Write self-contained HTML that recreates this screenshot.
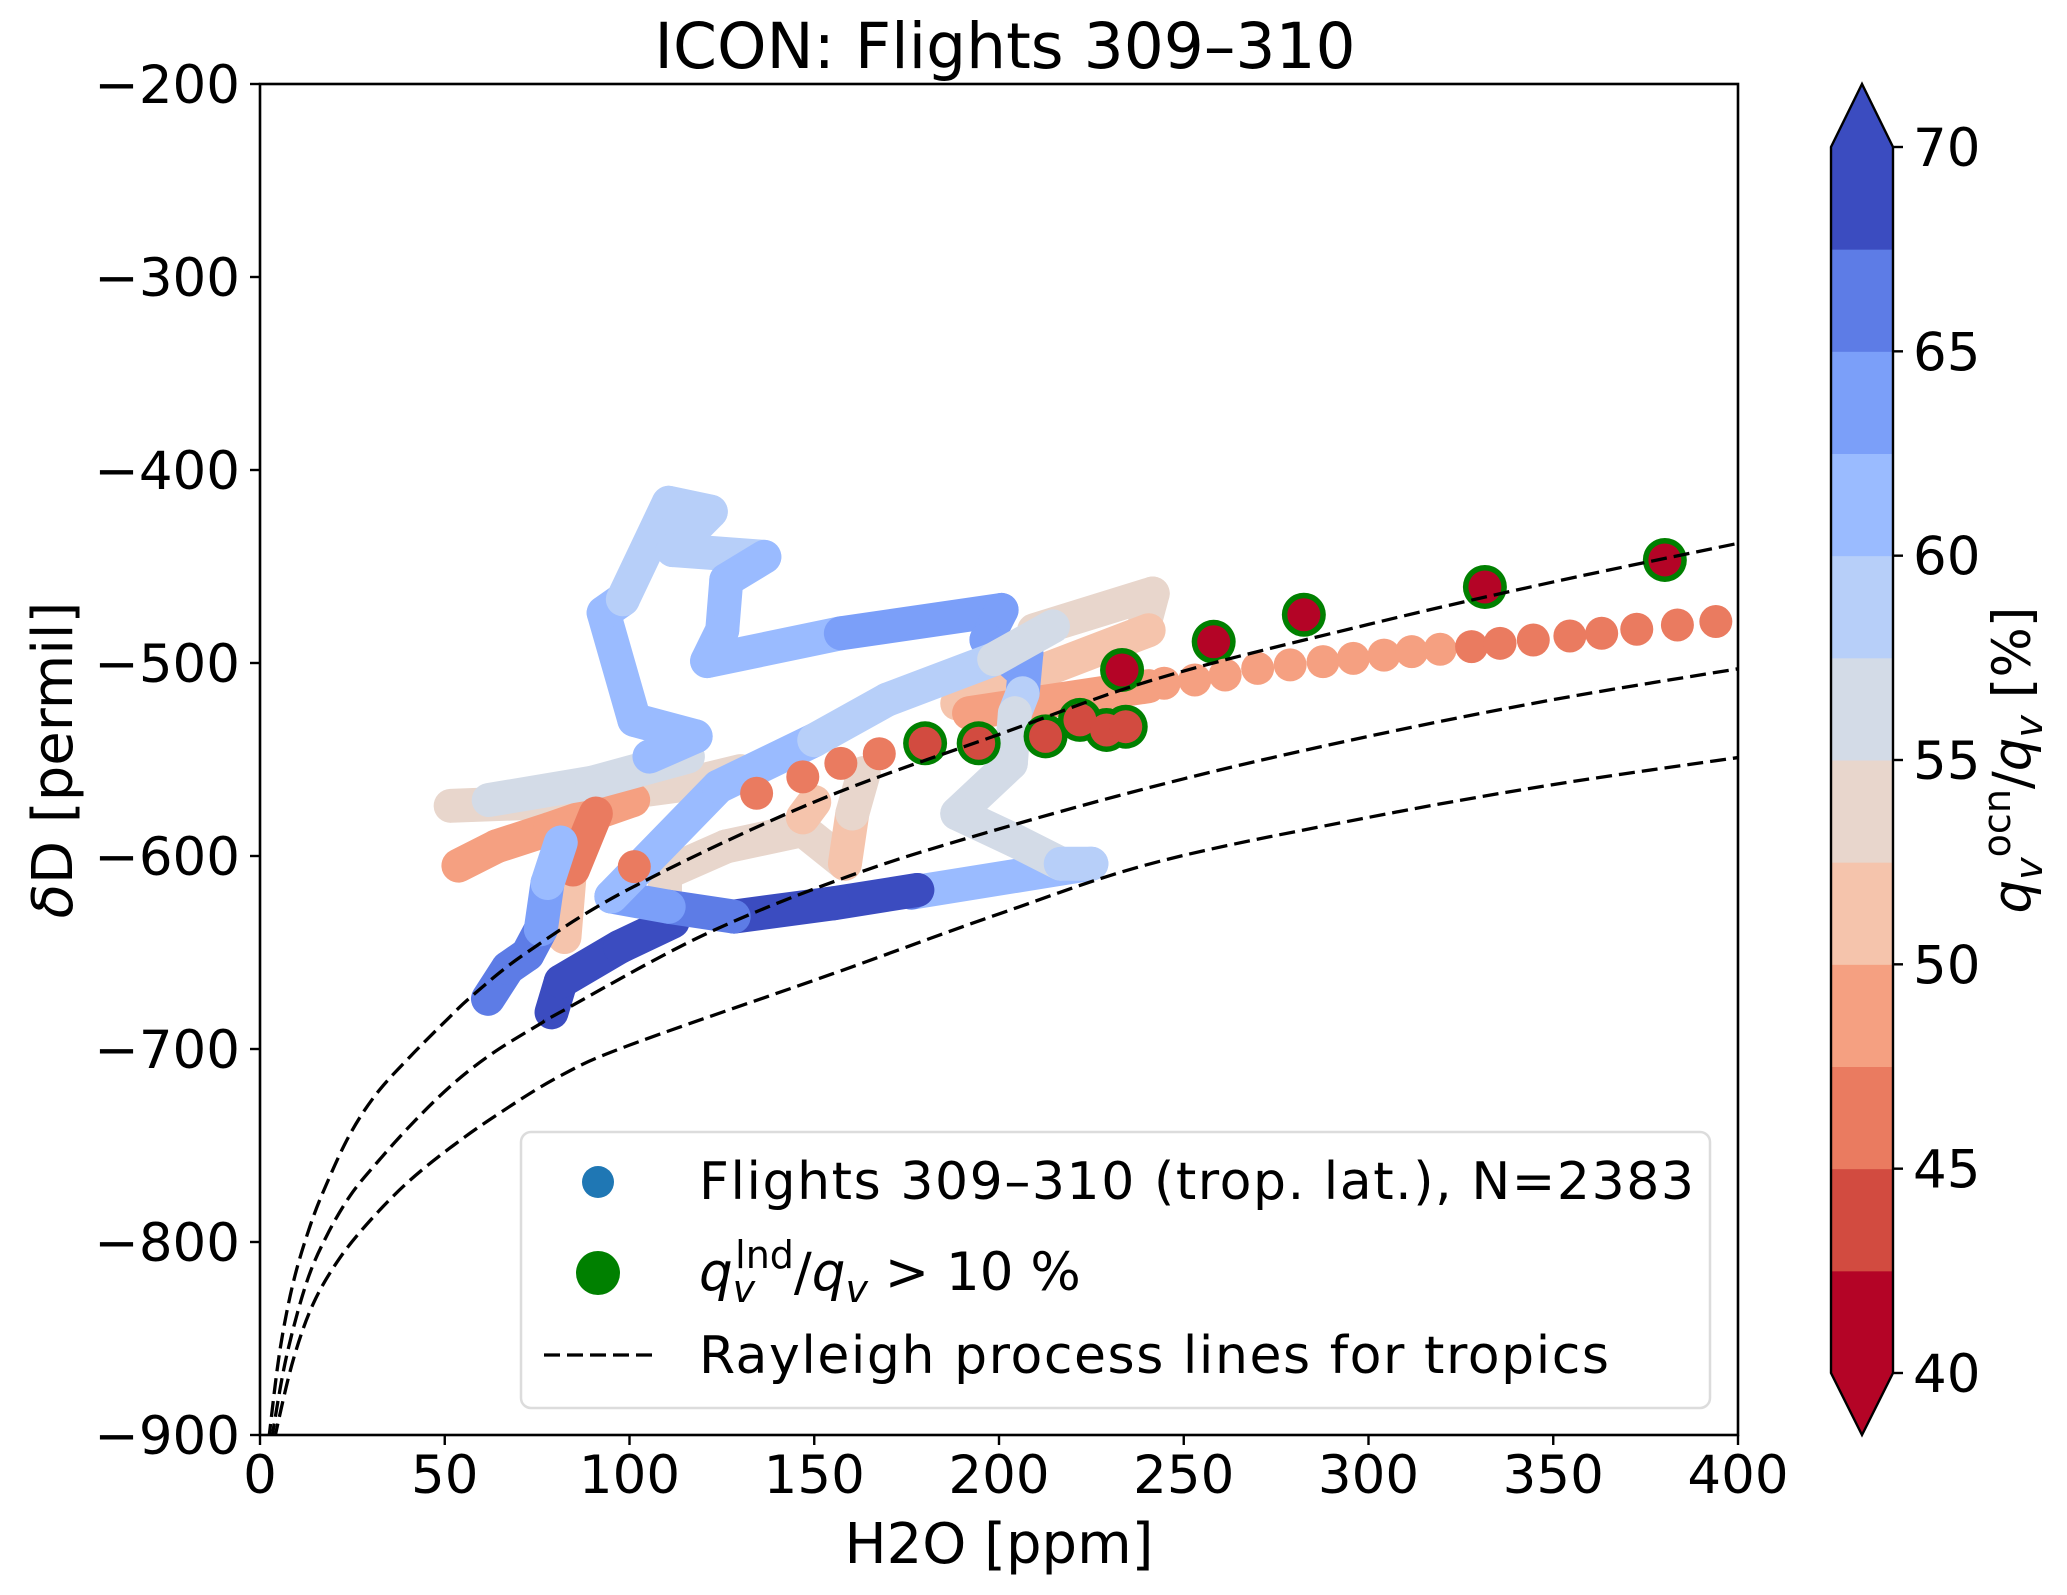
<!DOCTYPE html>
<html><head><meta charset="utf-8"><style>
html,body{margin:0;padding:0;background:#fff}
svg{display:block;font-family:"DejaVu Sans","Liberation Sans",sans-serif}
</style></head><body>
<svg id="chart" width="2067" height="1595" viewBox="0 0 2067 1595" xmlns="http://www.w3.org/2000/svg">
<g id="marks"></g>
<g id="axes"></g>
</svg>
<script>
// ---- data ----
const xTicks = [0,50,100,150,200,250,300,350,400];
const yTicks = [-200,-300,-400,-500,-600,-700,-800,-900];
const cbTicks = [40,45,50,55,60,65,70];
const cbLevels = [40,42.5,45,47.5,50,52.5,55,57.5,60,62.5,65,67.5,70];
const cbColors = ["#b40426","#d24b40","#ea7b60","#f5a081","#f5c4ac","#e8d6cc","#d3dbe7","#b7cff9","#9abbff","#7b9ff9","#5d7ce6","#3b4cc0"];
// Rayleigh lines: [H2O, dD]
const rayleigh1 = [[2.5,-902],[2.7,-897],[5.4,-856],[9,-821],[13.5,-792],[18,-770],[24.4,-744],[31.6,-723],[40.6,-704],[50.5,-685],[57.7,-672],[72.2,-650],[100,-617],[150,-572],[200,-537],[243,-508],[300,-480],[350,-458],[400,-438]];
const rayleigh2 = [[3.4,-902],[3.6,-897],[7.2,-859],[12.6,-821],[18,-797],[24.4,-776],[31.6,-759],[41.5,-738],[52.3,-718],[63.1,-702],[75.8,-687],[81.2,-681],[120,-641],[160,-610],[200,-586],[250,-560],[300,-538],[350,-519],[400,-503]];
const rayleigh3 = [[4.3,-902],[4.5,-897],[9,-861],[14.4,-832],[21.7,-808],[30.7,-787],[40.6,-768],[52.3,-750],[65,-733],[81.2,-714],[100,-698],[155,-661],[200,-630],[243,-603],[300,-580],[350,-563],[400,-549]];
// flight track segments: [H2O, dD, ocean fraction %]
const trackBeige = [[51.6,-574,54],[80,-572,54],[115,-563,54],[130,-556,54]];
const trackSalmon = [[53.7,-605,49],[64,-595,49],[78.5,-586,49],[101,-571,49]];
const trackBeigeLow = [[109.6,-635,53],[109.6,-609,53],[126.2,-595,53],[146.9,-586.5,53],[158.3,-604,52],[160.3,-578,53],[163.4,-557,54]];
const trackPeachBlob = [[146.9,-580,51],[150,-572,51]];
const trackGreyBand = [[61.9,-571,56],[90,-562,56],[115.8,-548.5,56]];
const trackOrangeV = [[90.9,-578,46],[84.7,-607,46]];
const trackPeachV = [[83.7,-612,51],[82.4,-642,51]];
const trackLoop = [[105.4,-548.5,61],[117.9,-538,61],[101.3,-529.5,61],[93,-474,61],[98.2,-467,59],[110.6,-417,58],[122,-421.6,58],[111.7,-441.5,58],[136.5,-445,61],[126.2,-457,61],[125.1,-483,61],[121,-499,61],[157.2,-484.6,64],[200.7,-472.5,64],[196.6,-488,64],[204.9,-502,64],[207.4,-495,64],[206.4,-515.7,59],[204.3,-526,57],[203.2,-552,56],[188.7,-578,56],[204.3,-592,56],[216.7,-604,58],[225,-604,62]];
const trackBottom = [[225,-604,62],[176.3,-619,66],[177.9,-617.6,68],[155.2,-624.5,69],[128.2,-631.4,66],[110.6,-626.3,64],[95.1,-621,63]];
const trackDiag = [[95.1,-621,61],[124.1,-564,61],[150,-540,58],[169.7,-519,58],[198.7,-498,56],[214.6,-481,56]];
const trackUpperBeige = [[209.5,-483,54],[241.6,-464,54],[239.5,-479,54]];
const trackUpperPeach = [[188.7,-521,51],[240.5,-483,51]];
const trackUpperSalmon = [[191.9,-526,48],[240.5,-512,48]];
const trackLeftBlue = [[61.7,-674,66],[67.1,-658,66],[72.4,-651,66],[76,-638,63],[77.8,-614,60],[81.4,-593,58]];
const trackDark = [[78.9,-681,70],[81.4,-665,70],[97.4,-647,70],[111.7,-634,70]];
// individual points (ocean fraction %)
const dotsX = [101.3,134.4,146.9,157.2,167.6,244.7,253,261.2,270,278.8,287.7,295.9,304.2,311.7,319.4,327.9,335.6,344.6,354.5,363.1,372.6,383.6,394];
const dotsY = [-605.5,-567.5,-559,-552,-547,-510.5,-508.8,-506.2,-502.8,-501,-499.3,-497.6,-495.9,-494.1,-492.9,-491.5,-489.8,-488.1,-486,-484.6,-482.5,-480.3,-478.5];
const dotsC = [46,46,46,46,46,48,48,48,48,48,48,48,48,48,48,46,46,46,46,46,46,46,46];
const greenX = [180,194.5,212.6,221.9,229.1,234.3,233.3,258.1,282.5,331.5,380.2];
const greenY = [-541.6,-541.6,-538,-529.5,-534.7,-533,-503.6,-489,-475,-460.6,-446.6];
const greenC = [44,44,44,44,44,44,41,41,41,41,41];

// ---- axes geometry ----
const L=260,R=1738,T=84,B=1435;
const xs = v => L + (v-0)/(400-0)*(R-L);
const ys = v => T + (-200 - v)/700*(B-T);
const NS="http://www.w3.org/2000/svg";
function el(tag, attrs, parent){const e=document.createElementNS(NS,tag);for(const k in attrs)e.setAttribute(k,attrs[k]);parent.appendChild(e);return e;}
function colorOf(v){let i=Math.floor((v-40)/2.5);if(i<0)i=0;if(i>11)i=11;return cbColors[i];}
const marks=document.getElementById('marks'), axes=document.getElementById('axes');
const clip=el('clipPath',{id:'pc'},marks);el('rect',{x:L,y:T,width:R-L,height:B-T},clip);
const g=el('g',{'clip-path':'url(#pc)'},marks);

function drawTrack(arr,name){
  for(let i=0;i<arr.length-1;i++){
    const a=arr[i],b=arr[i+1];
    const ln=el('line',{x1:xs(a[0]),y1:ys(a[1]),x2:xs(b[0]),y2:ys(b[1]),stroke:colorOf(a[2]),'stroke-width':34,'stroke-linecap':'round'},g);
    
    
  }
}
drawTrack(trackBeige,'track-beige');
drawTrack(trackSalmon,'track-salmon');
drawTrack(trackBeigeLow,'track-beige-low');
drawTrack(trackPeachBlob,'track-peach');
drawTrack(trackGreyBand,'track-grey');
drawTrack(trackUpperBeige,'track-upper-beige');
drawTrack(trackUpperPeach,'track-upper-peach');
drawTrack(trackUpperSalmon,'track-upper-salmon');
drawTrack(trackPeachV,'track-peach-vertical');
drawTrack(trackOrangeV,'track-orange-vertical');
drawTrack(trackLeftBlue,'track-left-blue');
drawTrack(trackDark,'track-dark-blue');
drawTrack(trackBottom,'track-bottom-blue');
drawTrack(trackLoop,'track-loop');
drawTrack(trackDiag,'track-diagonal');

for(let i=0;i<greenX.length;i++){
  const c=el('circle',{cx:xs(greenX[i]),cy:ys(greenY[i]),r:22,fill:'#008000'},g);
  
  
}
for(let i=0;i<dotsX.length;i++){
  const c=el('circle',{cx:xs(dotsX[i]),cy:ys(dotsY[i]),r:16.5,fill:colorOf(dotsC[i])},g);
  
  
}
for(let i=0;i<greenX.length;i++){
  const c=el('circle',{cx:xs(greenX[i]),cy:ys(greenY[i]),r:16.5,fill:colorOf(greenC[i])},g);
  
  
}
function smoothPath(pts){
  const P=pts.map(p=>[xs(p[0]),ys(p[1])]);
  let d='M'+P[0][0]+','+P[0][1];
  for(let i=0;i<P.length-1;i++){
    const p0=P[i-1]||P[i],p1=P[i],p2=P[i+1],p3=P[i+2]||p2;
    const c1=[p1[0]+(p2[0]-p0[0])/6,p1[1]+(p2[1]-p0[1])/6],c2=[p2[0]-(p3[0]-p1[0])/6,p2[1]-(p3[1]-p1[1])/6];
    d+=' C'+c1+' '+c2+' '+p2;
  }
  return d;
}
[[rayleigh1,'rayleigh-line-1'],[rayleigh2,'rayleigh-line-2'],[rayleigh3,'rayleigh-line-3']].forEach(([arr,nm])=>{
  const p=el('path',{d:smoothPath(arr),fill:'none',stroke:'#000','stroke-width':3.3,'stroke-dasharray':'16,7'},g);
  
  
});

// axes frame
const fr=el('rect',{x:L,y:T,width:R-L,height:B-T,fill:'none',stroke:'#000','stroke-width':2.6},axes);


xTicks.forEach(v=>{
  el('line',{x1:xs(v),y1:B,x2:xs(v),y2:B+10,stroke:'#000','stroke-width':2.4},axes);
  const t=el('text',{x:xs(v),y:B+58,'text-anchor':'middle','font-size':53},axes);t.textContent=v;
  
  
});
yTicks.forEach(v=>{
  el('line',{x1:L-10,y1:ys(v),x2:L,y2:ys(v),stroke:'#000','stroke-width':2.4},axes);
  const t=el('text',{x:L-20,y:ys(v)+19,'text-anchor':'end','font-size':53},axes);t.textContent='\u2212'+Math.abs(v);
  
  
});

// colorbar
const CX=1831,CW=62,cy0=1373,cy1=147;
const cbY=v=>cy0-(v-40)/30*(cy0-cy1);
for(let i=0;i<cbColors.length;i++){
  const r=el('rect',{x:CX,y:cbY(cbLevels[i+1]),width:CW,height:cbY(cbLevels[i])-cbY(cbLevels[i+1])+0.5,fill:cbColors[i]},axes);
  
  
}
const up=el('polygon',{points:`${CX},${cy1} ${CX+CW/2},84 ${CX+CW},${cy1}`,fill:'#3b4cc0'},axes);


const dn=el('polygon',{points:`${CX},${cy0} ${CX+CW/2},1435 ${CX+CW},${cy0}`,fill:'#b40426'},axes);


el('polygon',{points:`${CX},${cy1} ${CX+CW/2},84 ${CX+CW},${cy1} ${CX+CW},${cy0} ${CX+CW/2},1435 ${CX},${cy0}`,fill:'none',stroke:'#000','stroke-width':2.4},axes);
cbTicks.forEach(v=>{
  el('line',{x1:CX+CW,y1:cbY(v),x2:CX+CW+10,y2:cbY(v),stroke:'#000','stroke-width':2.4},axes);
  const t=el('text',{x:CX+CW+20,y:cbY(v)+19,'font-size':53},axes);t.textContent=v;
  
  
});
</script>
<div style="position:absolute;left:0;top:0;width:2067px;height:1595px;pointer-events:none">
<svg width="2067" height="1595" style="position:absolute;left:0;top:0;font-family:'DejaVu Sans','Liberation Sans',sans-serif">
<text x="1005" y="68" text-anchor="middle" font-size="63">ICON: Flights 309–310</text>
<text x="999" y="1563" text-anchor="middle" font-size="56">H2O [ppm]</text>
<text transform="translate(72,760) rotate(-90)" text-anchor="middle" font-size="56"><tspan font-style="italic">δ</tspan>D [permil]</text>
<text transform="translate(2030,760) rotate(-90)" text-anchor="middle" font-size="53"><tspan font-style="italic">q</tspan><tspan font-style="italic" font-size="38" dy="12">v</tspan><tspan font-size="38" dy="-32">ocn</tspan><tspan dy="20">/</tspan><tspan font-style="italic">q</tspan><tspan font-style="italic" font-size="38" dy="12">v</tspan><tspan dy="-12"> [%]</tspan></text>
<g>
<rect x="521" y="1132" width="1189" height="276" rx="10" fill="#fff" fill-opacity="0.8" stroke="#dcdcdc" stroke-width="2.5"/>
<circle cx="598" cy="1182" r="16" fill="#1f77b4"/>
<text x="699" y="1199" font-size="52" textLength="995">Flights 309–310 (trop. lat.), N=2383</text>
<circle cx="598" cy="1273" r="22" fill="#008000"/>
<text x="699" y="1290" font-size="53"><tspan font-style="italic">q</tspan><tspan font-style="italic" font-size="38" dy="12">v</tspan><tspan font-size="38" dy="-34" dx="-20">lnd</tspan><tspan dy="22">/</tspan><tspan font-style="italic">q</tspan><tspan font-style="italic" font-size="38" dy="12">v</tspan><tspan dy="-12"> &gt; 10 %</tspan></text>
<line x1="544" y1="1355" x2="652" y2="1355" stroke="#000" stroke-width="3.3" stroke-dasharray="16,7"/>
<text x="699" y="1373" font-size="52" textLength="910">Rayleigh process lines for tropics</text>
</g>
</svg>
</div>
</body></html>
